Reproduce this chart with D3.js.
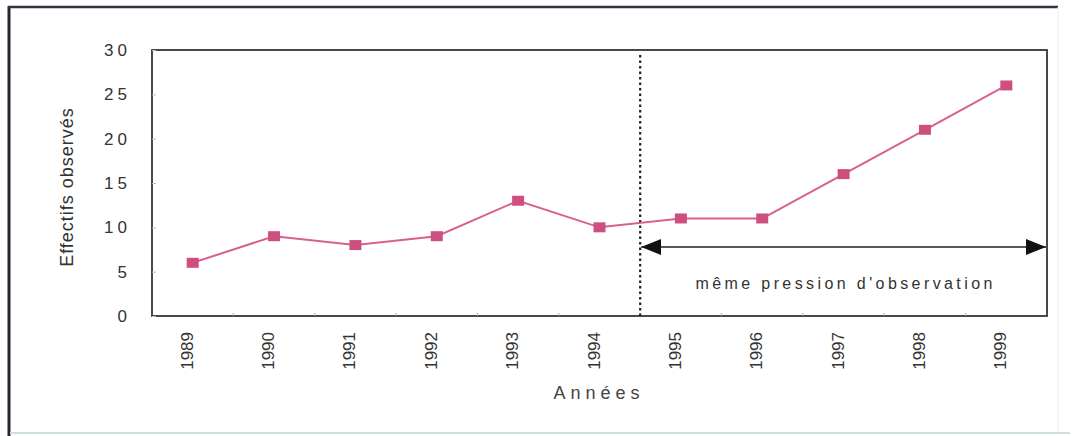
<!DOCTYPE html>
<html><head><meta charset="utf-8">
<script src="https://cdn.jsdelivr.net/npm/d3@7"></script>
<style>
html,body{margin:0;padding:0;background:#fff;}
svg{display:block;font-family:"Liberation Sans",Arial,sans-serif;}
</style></head>
<body>
<script>
const years = ["1989","1990","1991","1992","1993","1994","1995","1996","1997","1998","1999"];
const effectifs = [6, 9, 8, 9, 13, 10, 11, 11, 16, 21, 26];
const yTicks = [0, 5, 10, 15, 20, 25, 30];
const splitAfter = "1994";
const annotation = "même pression d'observation";
const xTitle = "Années";
const yTitle = "Effectifs observés";

const W = 1074, H = 436;
const m = {left:152, top:50, right:1047, bottom:316};
const svg = d3.select("body").append("svg").attr("width", W).attr("height", H);

// outer frame
svg.append("line").attr("x1",9).attr("x2",9).attr("y1",6).attr("y2",436).attr("stroke","#2b2330").attr("stroke-width",3);
svg.append("line").attr("x1",8).attr("x2",1058).attr("y1",7).attr("y2",7).attr("stroke","#3a3040").attr("stroke-width",2.5);
svg.append("line").attr("x1",1058).attr("x2",1058).attr("y1",7).attr("y2",432).attr("stroke","#ececf0").attr("stroke-width",1);
svg.append("line").attr("x1",10).attr("x2",1070).attr("y1",433).attr("y2",433).attr("stroke","#cfe0d8").attr("stroke-width",2);

const x = d3.scaleBand().domain(years).range([m.left, m.right]);
const y = d3.scaleLinear().domain([0,30]).range([m.bottom, m.top]);

// plot frame
svg.append("rect").attr("x",m.left).attr("y",m.top).attr("width",m.right-m.left).attr("height",m.bottom-m.top)
  .attr("fill","none").attr("stroke","#3a3040").attr("stroke-width",1.8);

// y axis
const yAxis = svg.append("g").attr("transform",`translate(${m.left},0)`)
  .call(d3.axisLeft(y).tickValues(yTicks).tickSize(-4).tickPadding(21));
yAxis.select(".domain").remove();
yAxis.selectAll("line").attr("stroke","#bbb");
yAxis.selectAll("text").attr("font-size",17).attr("fill","#333").attr("letter-spacing","4px")
  .attr("font-family","'Liberation Sans',Arial,sans-serif");

// x axis ticks at band boundaries
const bounds = years.slice(1).map(d => x(d));
svg.append("g").selectAll("line").data(bounds).join("line")
  .attr("x1",d=>d).attr("x2",d=>d).attr("y1",m.bottom).attr("y2",m.bottom-3)
  .attr("stroke","#aaa");

// x labels
svg.append("g").selectAll("text").data(years).join("text")
  .attr("transform", d => `translate(${x(d)+x.bandwidth()/2+0},332) rotate(-90)`)
  .attr("text-anchor","end").attr("font-size",17).attr("fill","#333")
  .text(d=>d);

// axis titles
svg.append("text").attr("x",599).attr("y",399).attr("text-anchor","middle")
  .attr("font-size",18).attr("letter-spacing","5px").attr("fill","#444").text(xTitle);
svg.append("text").attr("transform","translate(73,187) rotate(-90)").attr("text-anchor","middle")
  .attr("font-size",18).attr("letter-spacing","1px").attr("fill","#333").text(yTitle);

// dashed vertical separator
const sx = x(splitAfter) + x.bandwidth();
svg.append("line").attr("x1",sx).attr("x2",sx).attr("y1",m.top+5).attr("y2",m.bottom)
  .attr("stroke","#222").attr("stroke-width",2.2).attr("stroke-dasharray","2.5,3");

// arrow
const defs = svg.append("defs");
defs.append("marker").attr("id","ah").attr("viewBox","0 0 10 10").attr("refX",10).attr("refY",5)
  .attr("markerWidth",20).attr("markerHeight",16).attr("markerUnits","userSpaceOnUse").attr("orient","auto-start-reverse")
  .attr("preserveAspectRatio","none")
  .append("path").attr("d","M0,0 L10,5 L0,10 Z").attr("fill","#111");
svg.append("line").attr("x1",sx+1).attr("x2",m.right-1).attr("y1",247).attr("y2",247)
  .attr("stroke","#222").attr("stroke-width",1.5)
  .attr("marker-start","url(#ah)").attr("marker-end","url(#ah)");
svg.append("text").attr("x",(sx+m.right)/2+2).attr("y",289).attr("text-anchor","middle")
  .attr("font-size",16).attr("letter-spacing","3.4px").attr("fill","#333").text(annotation);

// line and markers
const line = d3.line().x((d,i)=>x(years[i])+x.bandwidth()/2).y(d=>y(d));
svg.append("path").datum(effectifs).attr("d",line).attr("fill","none")
  .attr("stroke","#d9608c").attr("stroke-width",2);
svg.append("g").selectAll("rect").data(effectifs).join("rect")
  .attr("x",(d,i)=>x(years[i])+x.bandwidth()/2-6).attr("y",d=>y(d)-5)
  .attr("width",12).attr("height",10).attr("fill","#cc4f80");
</script>
</body></html>
